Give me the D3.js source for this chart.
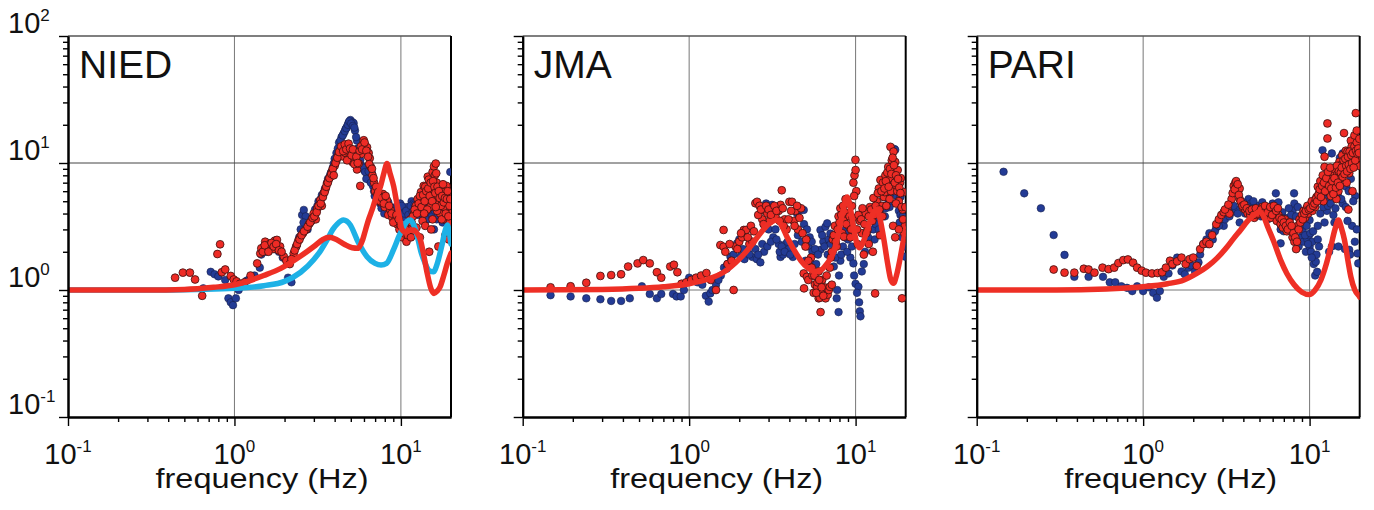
<!DOCTYPE html>
<meta charset="utf-8">
<style>
body { margin: 0; background: #fff; }
text { font-family: "Liberation Sans", Arial, Helvetica, sans-serif; fill: #111; }
.axis .domain { stroke: #000; stroke-width: 2; }
.axis line { stroke: #000; stroke-width: 1.4; }
</style>
<svg width="1374" height="510"></svg>
<script src="https://cdn.jsdelivr.net/npm/d3@7"></script>
<script>

var panelNames = ["NIED", "JMA", "PARI"];
var freqTicks = [0.1, 1, 10];
var ampTicks = [0.1, 1, 10, 100];
var tickExp = {0.1: "-1", 1: "0", 10: "1", 100: "2"};
var xTitle = "frequency (Hz)";

// NIED  [frequency Hz, amplification]
var niedBlue = [[0.65,1.03],[0.72,1.39],[0.76,1.33],[0.80,1.28],[0.88,1.2],[0.92,0.86],[0.95,0.80],[0.98,0.76],[1.02,0.86],[1.06,1.0],[1.12,1.1],[1.18,1.18],[1.22,1.21],[1.28,1.25],[1.32,1.3],[1.42,1.5],[1.5,2.2],[1.55,2.0],[1.62,2.1],[1.7,2.35],[1.78,2.2],[1.85,2.0],[1.95,1.8],[2.1,1.25],[2.17,1.2],[2.2,1.15],[2.35,2.2],[2.45,2.6],[2.55,3.9],[2.61,4.27],[2.68,3.8],[2.8,3.3],[2.9,3.6],[3.05,4.3],[3.2,5.0],[3.35,5.6],[3.5,6.3],[3.65,7.5],[3.8,8.4],[3.95,9.9],[4.1,12],[4.25,14.5],[4.4,16],[4.53,17.1],[4.65,18.5],[4.75,19.4],[4.85,20.8],[4.97,21.8],[5.1,21],[5.2,20.6],[5.3,18],[5.45,15],[5.6,11.5],[5.8,9.5],[6.0,8.8],[6.3,8],[6.5,7.3],[6.7,8.3],[6.8,6.6],[6.96,5.5],[7.2,5.3],[7.5,4.8],[7.8,4.6],[8.1,4.2],[8.4,4.9],[8.7,4.1],[9.0,3.8],[9.3,4.5],[9.6,4.0],[9.9,4.8],[10.3,4.3],[10.6,3.7],[10.9,4.5],[11.3,2.8],[11.6,5.0],[11.9,4.8],[12.3,4.4],[12.7,3.9],[13.1,5.1],[13.5,4.2],[14.0,4.6],[14.5,3.6],[15.0,4.1],[15.8,3.0],[16.4,3.6],[17.0,4.2],[17.8,3.4],[18.5,3.8],[19.2,4.3],[19.8,8.5],[19.9,3.0],
  [1.45,1.9],[1.58,2.3],[1.66,2.2],[1.74,2.1],[2.5,3.0],[2.6,3.4],[2.75,3.0],[3.0,3.9],[3.15,4.6],[3.3,5.2],[3.45,5.9],[3.6,7.0],[3.75,8.0],[3.9,9.2],[4.0,10.8],[4.18,13],[4.33,15],[4.47,16.5],[4.6,17.8],[4.7,18.8],[4.8,20],[4.9,21.3],[5.03,20.5],[5.15,19.6],[5.25,19],[5.38,16],[5.5,13],[5.7,10.5],[5.9,9.2],[6.1,8.5],[6.2,7.5],[6.4,8.6],[6.6,7.0],[6.9,6.0],[7.1,5.8],[7.35,5.0],[7.65,4.4],[7.95,4.0],[8.25,4.5],[8.55,4.0],[8.85,4.4],[9.15,4.2],[9.45,3.7],[9.75,4.2],[10.1,4.6],[10.45,4.0],[10.75,4.2],[11.1,3.9],[11.45,4.6],[11.75,4.1],[12.1,4.7],[12.5,4.1],[12.9,4.5],[13.3,4.8],[13.8,4.0],[14.2,4.3],[14.8,4.5],[15.4,3.8],[16.0,4.2],[16.8,3.9],[17.4,4.5],[18.0,4.0],[18.8,3.5],[19.5,4.0]];
var niedRed = [[0.44,1.25],[0.49,1.37],[0.54,1.37],[0.58,1.21],[0.64,0.9],[0.79,1.92],[0.82,2.29],[0.84,1.38],[0.88,1.45],[0.95,1.29],[0.99,1.21],[1.03,1.17],[1.08,1.12],[1.15,1.15],[1.25,1.3],[1.37,1.62],[1.43,1.94],[1.45,2.13],[1.48,2.0],[1.53,2.4],[1.58,2.2],[1.63,2.3],[1.7,2.1],[1.75,2.45],[1.8,2.48],[1.88,2.2],[1.98,1.83],[2.05,1.7],[2.15,1.6],[2.27,1.94],[2.35,2.2],[2.42,2.45],[2.49,2.63],[2.58,2.8],[2.7,3.0],[2.8,3.3],[2.9,3.5],[2.99,4.0],[3.08,3.6],[3.15,4.4],[3.28,5.1],[3.35,4.6],[3.44,5.78],[3.52,6.2],[3.6,6.9],[3.68,7.4],[3.77,7.8],[3.85,8.6],[4.0,9.5],[4.1,10.5],[4.2,11.5],[4.33,12.7],[4.45,11.3],[4.55,13.5],[4.65,12],[4.8,13.3],[4.9,11],[5.0,12.5],[5.1,10.2],[5.2,11.5],[5.35,10.5],[5.45,8.9],[5.58,9.9],[5.7,6.6],[5.8,11.8],[5.9,14],[5.98,15.1],[6.1,13.8],[6.26,13.3],[6.4,12],[6.5,10.9],[6.6,9.3],[6.75,8.0],[6.9,7.0],[7.0,6.0],[7.2,5.6],[7.4,5.3],[7.6,4.9],[7.8,5.7],[8.0,4.5],[8.25,5.1],[8.4,3.9],[8.66,4.27],[8.9,3.7],[9.2,3.5],[9.5,3.3],[9.8,3.0],[10.2,2.6],[10.5,3.2],[10.8,2.4],[11.2,3.0],[11.6,3.4],[12.0,4.0],[12.3,4.6],[12.6,5.2],[12.9,4.1],[13.2,5.9],[13.5,3.5],[13.7,6.6],[14.0,6.5],[14.3,5.1],[14.5,7.8],[14.7,7.4],[15.0,4.5],[15.2,6.0],[15.5,8.5],[15.8,9.4],[16.0,8.0],[16.2,9.9],[16.4,7.0],[16.6,5.5],[16.8,2.2],[17.0,4.8],[17.2,4.0],[17.5,6.3],[17.8,5.0],[18.0,5.9],[18.3,3.6],[18.5,2.7],[18.8,6.6],[19.0,4.4],[19.2,4.8],[19.5,5.6],[19.7,3.4],[19.9,4.0],[14.0,3.2],[14.8,2.0],[15.2,3.0],[13.0,2.6],[12.4,3.1],[16.5,4.2],[17.6,3.6],[18.2,4.5],[19.4,2.5],
  [1.52,2.25],[1.6,2.0],[1.67,2.35],[1.72,2.2],[1.78,2.3],[1.85,2.05],[1.92,2.0],[2.2,1.75],[2.3,2.05],[2.38,2.3],[2.46,2.5],[2.53,2.7],[2.62,2.9],[2.75,3.15],[2.85,3.4],[2.95,3.7],[3.02,3.8],[3.12,4.1],[3.2,4.6],[3.3,4.8],[3.4,5.4],[3.48,5.9],[3.56,6.5],[3.64,7.0],[3.72,7.6],[3.82,8.2],[3.9,9.0],[3.95,8.0],[4.05,10.0],[4.15,11.0],[4.25,12.2],[4.38,13.5],[4.5,12.4],[4.6,14.0],[4.7,12.8],[4.75,10.5],[4.85,14.2],[4.95,13.0],[5.05,11.5],[5.15,12.8],[5.25,9.8],[5.4,11.2],[5.5,10.0],[5.65,12.5],[5.75,13.5],[5.85,12.8],[6.05,14.5],[6.2,12.5],[6.35,11.2],[6.45,9.8],[6.7,9.0],[6.85,7.6],[7.1,6.5],[7.3,5.9],[7.5,5.0],[7.7,5.3],[7.9,4.8],[8.1,5.5],[8.5,4.6],[8.8,4.0],[9.0,3.4],[9.4,3.9],[9.7,3.6],[10.0,3.2],[10.4,2.8],[10.7,3.0],[11.0,2.7],[11.4,3.6],[11.8,3.8],[12.1,4.3],[12.5,4.0],[12.8,4.8],[13.0,5.5],[13.3,4.5],[13.6,5.6],[13.9,5.0],[14.2,6.0],[14.4,4.3],[14.6,6.3],[14.9,5.5],[15.1,7.0],[15.4,5.0],[15.6,7.2],[15.9,6.5],[16.1,5.8],[16.3,8.3],[16.6,6.5],[16.9,6.0],[17.1,5.3],[17.4,4.6],[17.7,5.5],[17.9,6.8],[18.1,4.9],[18.4,5.3],[18.6,4.0],[18.9,5.2],[19.1,6.0],[19.3,3.8],[19.6,4.6],[19.8,5.2],[13.8,4.0],[15.5,3.6],[16.2,4.5],[12.0,2.9],[11.5,2.6]];
var niedLineCyan = [[0.1,1.0],[0.3,1.0],[0.6,1.01],[1.0,1.03],[1.5,1.08],[2.0,1.17],[2.5,1.38],[3.0,1.74],[3.3,2.05],[3.6,2.48],[3.9,3.0],[4.14,3.3],[4.52,3.55],[4.97,3.25],[5.46,2.48],[6.26,1.83],[7.0,1.62],[7.6,1.57],[8.2,1.62],[9.06,2.1],[9.8,2.7],[10.4,3.15],[11.0,3.5],[11.4,3.55],[12.0,3.2],[12.5,2.7],[13.2,2.0],[14.0,1.62],[14.8,1.42],[15.7,1.39],[16.5,1.6],[17.7,2.3],[18.4,2.9],[19.0,3.25],[19.5,2.9],[20,2.3]];
var niedLineRed = [[0.1,1.0],[0.3,1.0],[0.5,1.01],[0.75,1.05],[1.0,1.1],[1.2,1.17],[1.5,1.3],[1.9,1.48],[2.5,1.85],[3.0,2.2],[3.4,2.5],[3.7,2.6],[4.1,2.5],[4.6,2.28],[5.1,2.15],[5.5,2.13],[5.9,2.5],[6.13,2.97],[6.4,3.6],[6.71,4.27],[7.1,5.4],[7.53,6.5],[7.9,8.3],[8.25,9.9],[8.6,8.3],[9.06,6.5],[9.4,5.0],[9.7,4.0],[10.15,3.0],[10.7,2.85],[11.3,2.95],[11.9,2.97],[12.5,2.8],[13.1,2.47],[13.7,1.9],[14.4,1.35],[15.1,1.04],[15.8,0.94],[16.5,0.98],[17.2,1.06],[18.1,1.3],[19.0,1.62],[20,1.95]];

// JMA
var jmaBlue = [[0.147,0.91],[0.194,0.89],[0.241,0.86],[0.293,0.845],[0.34,0.82],[0.39,0.82],[0.44,0.86],[0.52,1.07],[0.58,0.93],[0.64,0.86],[0.68,0.93],[0.8,0.93],[0.84,0.89],[0.89,0.89],[0.93,1.0],[1.0,1.25],[1.05,1.2],[1.12,1.15],[1.2,1.1],[1.26,0.9],[1.31,0.81],[1.34,0.94],[1.38,1.0],[1.45,1.1],[1.55,1.3],[1.62,1.5],[1.68,1.47],[1.77,1.83],[1.85,1.9],[1.94,2.33],[2.0,2.5],[2.05,1.85],[2.15,1.75],[2.25,2.0],[2.4,1.82],[2.55,1.75],[2.68,1.65],[2.82,2.0],[2.9,4.8],[3.0,3.0],[3.15,4.68],[3.2,2.6],[3.3,3.0],[3.45,2.3],[3.54,1.82],[3.67,1.9],[3.8,2.3],[3.98,2.1],[4.2,1.82],[4.45,4.0],[4.65,4.27],[4.88,4.27],[4.9,3.3],[5.0,1.7],[5.2,2.2],[5.35,1.62],[5.5,2.0],[5.6,1.3],[5.8,1.6],[6.15,2.07],[6.15,2.97],[6.4,2.4],[6.59,3.15],[6.75,3.35],[6.9,2.5],[7.05,2.78],[7.3,2.0],[7.4,1.53],[7.7,0.86],[7.75,1.0],[7.9,0.67],[8.1,1.7],[8.4,2.2],[8.7,3.0],[9.0,2.5],[9.3,1.8],[9.7,1.62],[10.0,1.12],[10.4,1.06],[10.5,0.8],[10.6,0.68],[10.7,0.62],[11.2,1.6],[11.6,2.4],[12.0,2.97],[12.5,3.6],[13.0,2.5],[13.5,3.55],[14.0,4.2],[14.7,5.4],[15.0,3.8],[15.5,6.0],[16.0,4.5],[16.5,7.0],[16.9,9.9],[17.1,12.9],[17.3,12.7],[17.7,5.5],[18.2,4.2],[18.6,5.4],[18.6,3.9],[19.2,3.8],[19.7,2.2],[19.9,1.83],
  [1.5,1.2],[1.7,1.6],[1.8,1.7],[2.1,2.1],[2.3,1.9],[2.5,2.1],[2.6,1.9],[2.75,2.3],[2.95,2.2],[3.1,2.4],[3.35,2.5],[3.5,2.0],[3.6,2.2],[3.75,2.0],[3.9,2.4],[4.05,1.9],[4.3,2.3],[4.5,2.7],[4.75,2.4],[5.1,3.0],[5.3,2.6],[5.45,2.4],[5.7,2.1],[5.95,1.9],[6.3,2.7],[6.5,2.2],[6.8,1.9],[7.1,2.3],[7.55,1.8],[7.95,1.3],[8.2,1.9],[8.6,2.6],[8.9,2.0],[9.1,2.8],[9.5,2.2],[9.8,1.3],[10.2,0.95],[10.9,1.4],[11.4,2.0],[11.9,2.6],[12.8,3.0],[13.2,3.3],[13.8,3.0],[14.3,4.6],[15.2,4.4],[15.8,5.0],[16.2,5.8],[16.7,8.0],[17.5,6.5],[18.0,5.0],[18.4,3.4],[19.0,2.6],[19.5,3.0]];
var jmaRed = [[0.147,1.05],[0.194,1.07],[0.241,1.14],[0.293,1.29],[0.34,1.31],[0.39,1.33],[0.43,1.53],[0.49,1.62],[0.53,1.72],[0.58,1.62],[0.64,1.38],[0.68,1.25],[0.77,1.53],[0.81,1.58],[0.85,1.38],[0.9,1.12],[0.96,1.15],[1.03,1.2],[1.1,1.25],[1.18,1.3],[1.27,1.36],[1.35,1.2],[1.45,1.0],[1.54,2.26],[1.61,2.97],[1.61,2.19],[1.7,1.6],[1.8,1.7],[1.85,1.0],[1.9,2.2],[2.0,2.4],[2.08,2.6],[2.13,2.97],[2.2,2.97],[2.3,2.3],[2.4,2.4],[2.5,4.82],[2.56,4.95],[2.65,4.6],[2.75,3.6],[2.85,4.2],[2.95,4.0],[3.05,3.5],[3.15,4.4],[3.3,3.8],[3.45,4.2],[3.54,4.68],[3.6,6.1],[3.75,3.6],[3.85,3.0],[4.0,4.95],[4.15,4.95],[4.25,3.5],[4.35,4.2],[4.5,3.0],[4.7,4.4],[4.88,1.35],[4.9,1.03],[5.05,2.5],[5.1,1.27],[5.2,1.2],[5.3,1.53],[5.4,1.8],[5.5,1.3],[5.6,0.95],[5.7,1.1],[5.87,1.06],[5.9,1.15],[6.0,0.86],[6.0,1.4],[6.1,0.87],[6.16,0.67],[6.2,0.95],[6.3,1.2],[6.5,1.05],[6.6,0.86],[6.8,0.92],[6.9,1.0],[7.0,1.06],[7.1,1.8],[7.2,1.1],[7.3,2.5],[7.5,3.2],[7.7,2.2],[7.9,3.8],[8.1,4.4],[8.3,2.8],[8.5,2.63],[8.5,3.5],[8.7,5.2],[8.9,4.0],[9.1,3.2],[9.3,2.6],[9.5,4.6],[9.7,7.0],[9.85,8.0],[9.98,10.6],[10.1,6.0],[10.3,2.3],[10.6,3.5],[10.9,2.8],[11.2,1.9],[11.5,4.0],[11.8,3.0],[12.2,4.5],[12.6,3.5],[13.1,0.94],[13.4,5.0],[13.8,6.3],[14.1,7.35],[14.4,4.6],[14.8,5.4],[15.1,8.0],[15.4,6.8],[15.7,9.3],[16.0,7.6],[16.2,13.4],[16.5,10.5],[16.9,12.3],[17.1,8.5],[17.3,10.2],[17.6,6.5],[17.9,8.8],[18.2,5.0],[18.5,7.0],[18.7,7.6],[19.0,0.86],[19.2,4.3],[19.5,5.9],[19.8,3.2],[15.0,5.9],[16.3,6.0],[17.5,4.8],[14.0,2.7],[13.0,3.9],
  [1.65,2.0],[1.75,2.3],[1.95,2.1],[2.05,2.8],[2.25,2.6],[2.35,3.2],[2.45,2.9],[2.6,3.9],[2.7,4.3],[2.8,3.3],[2.9,4.6],[3.0,4.3],[3.1,3.9],[3.25,4.6],[3.35,4.2],[3.5,3.5],[3.65,4.4],[3.7,3.2],[3.95,3.6],[4.1,4.2],[4.3,3.2],[4.45,4.6],[4.6,3.7],[4.8,2.8],[5.0,2.2],[5.2,1.7],[5.45,1.5],[5.65,1.3],[5.8,0.95],[6.05,1.2],[6.25,1.05],[6.4,0.9],[6.7,1.3],[7.0,1.5],[7.2,2.0],[7.4,2.7],[7.6,2.4],[7.8,3.0],[8.0,3.4],[8.2,3.9],[8.4,4.6],[8.6,4.1],[8.8,3.3],[9.0,4.8],[9.2,3.8],[9.4,3.0],[9.6,3.7],[9.8,5.5],[10.0,8.8],[10.2,3.0],[10.4,3.9],[10.8,3.6],[11.0,4.4],[11.3,3.3],[11.6,2.8],[12.0,3.8],[12.4,4.3],[12.8,5.3],[13.2,4.6],[13.6,5.8],[13.9,4.3],[14.3,6.0],[14.6,7.0],[14.9,6.3],[15.2,7.2],[15.5,8.4],[15.8,6.5],[16.1,9.0],[16.4,8.2],[16.7,11.0],[17.0,9.6],[17.2,7.0],[17.5,8.0],[17.8,6.0],[18.0,7.5],[18.3,6.4],[18.6,5.8],[18.9,4.5],[19.3,3.6],[19.6,2.8],[19.9,4.5],[16.0,5.2],[15.3,4.6],[14.5,3.8],[12.0,2.3],[12.7,2.0],[16.8,3.2],[17.3,2.6],[18.2,3.0]];
var jmaLineRed = [[0.1,1.0],[0.3,1.01],[0.5,1.03],[0.7,1.06],[1.0,1.12],[1.3,1.22],[1.61,1.38],[2.0,1.75],[2.33,2.19],[2.65,2.75],[3.0,3.3],[3.2,3.5],[3.38,3.55],[3.6,3.2],[3.88,2.6],[4.24,2.1],[4.7,1.7],[5.2,1.48],[5.7,1.4],[6.1,1.42],[6.7,1.6],[7.39,2.0],[7.9,2.8],[8.4,4.2],[8.9,5.4],[9.3,4.4],[9.7,3.15],[10.2,2.3],[10.6,2.15],[11.2,2.45],[11.8,3.0],[12.6,3.9],[13.5,4.35],[14.1,3.5],[14.8,2.48],[15.6,1.6],[16.3,1.2],[16.9,1.13],[17.6,1.3],[18.4,1.7],[19.2,2.3],[20,3.0]];

// PARI
var pariBlue = [[0.145,8.53],[0.193,5.77],[0.243,4.4],[0.29,2.71],[0.337,1.89],[0.386,1.27],[0.47,1.27],[0.574,1.27],[0.63,1.15],[0.68,1.15],[0.74,1.07],[0.8,1.04],[0.86,0.98],[0.92,1.07],[1.0,0.98],[1.08,1.05],[1.15,0.95],[1.21,0.87],[1.26,0.98],[1.33,1.27],[1.42,1.35],[1.5,1.56],[1.6,1.8],[1.7,1.4],[1.78,1.33],[1.87,1.5],[1.95,1.56],[2.05,1.4],[2.15,1.65],[2.3,2.3],[2.4,2.5],[2.5,2.8],[2.62,2.5],[2.75,3.1],[2.9,3.45],[3.05,3.2],[3.2,3.9],[3.4,4.1],[3.6,4.3],[3.8,3.4],[3.95,4.6],[4.1,4.0],[4.3,5.2],[4.45,4.8],[4.7,4.2],[4.9,4.6],[5.1,3.8],[5.35,4.4],[5.6,3.6],[5.8,3.9],[6.0,4.8],[6.27,5.77],[6.3,3.8],[6.6,3.4],[6.7,2.33],[6.7,3.0],[7.0,2.9],[7.3,3.2],[7.6,3.6],[7.9,4.2],[8.07,5.77],[8.1,4.8],[8.4,3.0],[8.6,2.2],[8.9,2.6],[9.2,2.4],[9.5,2.0],[9.7,2.5],[9.9,2.7],[10.0,3.55],[10.0,2.2],[10.2,2.0],[10.4,2.4],[10.6,1.6],[10.8,1.3],[10.9,1.67],[11.0,1.9],[11.1,1.39],[11.2,2.5],[11.4,2.2],[11.96,12.6],[12.0,5.5],[12.3,3.4],[12.7,4.2],[13.0,6.0],[13.1,2.0],[13.3,7.5],[13.6,11.9],[13.6,2.2],[13.9,3.9],[14.1,3.4],[14.4,8.0],[14.8,5.5],[14.9,2.2],[15.2,11],[15.8,11.9],[15.8,4.8],[16.3,2.1],[16.6,6.5],[17.0,9.0],[17.3,2.07],[17.5,1.9],[18.0,3.2],[18.5,12.7],[18.8,5.5],[19.4,1.94],[19.6,1.62],
  [2.2,1.9],[2.45,2.3],[2.7,2.9],[2.85,3.2],[3.1,3.6],[3.3,3.8],[3.5,4.6],[3.7,4.0],[4.0,4.9],[4.2,4.6],[4.6,5.0],[5.0,4.3],[5.2,4.9],[5.5,4.5],[5.7,4.2],[6.15,4.4],[6.5,4.9],[6.85,4.1],[7.15,3.7],[7.5,4.4],[7.75,3.9],[8.3,3.8],[8.5,4.5],[8.8,3.2],[9.1,2.9],[9.4,2.7],[9.6,3.2],[9.8,2.3],[10.1,2.8],[10.3,1.8],[10.5,2.9],[11.2,3.2],[11.6,4.0],[12.1,4.5],[12.5,5.2],[12.9,4.6],[13.4,4.8],[13.8,5.6],[14.3,4.4],[14.6,3.3],[15.0,6.5],[15.5,5.2],[16.0,8.5],[16.5,4.5],[16.9,3.5],[17.2,6.0],[17.7,7.5],[18.3,5.0],[18.7,2.4],[19.2,3.0]];
var pariRed = [[0.29,1.45],[0.337,1.37],[0.386,1.37],[0.44,1.47],[0.47,1.45],[0.51,1.37],[0.57,1.5],[0.62,1.46],[0.67,1.5],[0.71,1.63],[0.76,1.72],[0.81,1.74],[0.87,1.64],[0.92,1.5],[0.98,1.42],[1.04,1.37],[1.13,1.35],[1.22,1.36],[1.3,1.38],[1.37,1.5],[1.45,1.7],[1.5,1.6],[1.6,1.68],[1.7,1.8],[1.8,1.6],[1.9,1.75],[2.0,1.8],[2.1,1.55],[2.2,2.1],[2.3,2.3],[2.4,2.4],[2.5,2.3],[2.6,2.7],[2.75,3.3],[2.85,3.6],[2.95,3.9],[3.05,4.1],[3.2,4.4],[3.3,4.0],[3.4,5.2],[3.5,6.6],[3.58,7.0],[3.65,6.5],[3.72,6.0],[3.8,6.3],[3.8,5.2],[3.9,4.8],[4.0,4.4],[4.1,4.3],[4.25,4.0],[4.4,3.9],[4.55,4.1],[4.65,3.7],[4.8,3.9],[5.0,4.1],[5.2,4.5],[5.35,3.8],[5.5,3.9],[5.7,4.3],[5.85,3.7],[6.0,4.3],[6.2,4.0],[6.35,3.5],[6.5,3.9],[6.7,3.3],[6.9,3.1],[7.1,3.6],[7.3,2.9],[7.5,3.4],[7.7,3.0],[7.9,2.6],[8.1,2.4],[8.3,2.1],[8.5,3.2],[8.7,3.6],[9.0,3.9],[9.2,4.2],[9.4,3.7],[9.6,4.4],[9.8,4.0],[10.0,4.6],[10.2,4.7],[10.4,4.2],[10.6,5.0],[10.8,4.5],[11.0,5.4],[11.2,6.5],[11.4,5.8],[11.6,7.2],[11.8,6.0],[12.0,8.0],[12.1,5.0],[12.3,11.2],[12.3,9.3],[12.5,6.5],[12.8,20.5],[12.8,15.6],[13.0,7.5],[13.2,5.8],[13.4,5.5],[13.6,8.5],[13.8,6.4],[14.0,9.0],[14.3,7.1],[14.5,5.2],[14.7,8.2],[14.9,6.0],[15.1,10.2],[15.3,9.6],[15.5,7.6],[15.7,11.5],[16.1,17.2],[16.3,9.0],[16.5,12.5],[16.7,7.0],[16.9,12.3],[17.1,4.3],[17.3,8.3],[17.5,10.4],[17.7,15],[17.9,13.5],[18.1,6.0],[18.4,11],[18.6,16.5],[18.8,13],[18.95,24.7],[19.2,18],[19.4,14],[19.6,11],[19.8,9.5],
  [3.1,4.3],[3.25,4.7],[3.45,5.8],[3.55,6.2],[3.62,7.2],[3.7,6.8],[3.76,5.6],[3.85,5.0],[3.95,4.6],[4.05,4.7],[4.2,4.4],[4.35,4.2],[4.5,4.3],[4.6,3.9],[4.75,4.4],[4.9,4.0],[5.1,4.3],[5.25,4.0],[5.4,4.6],[5.6,4.1],[5.8,4.5],[5.95,3.9],[6.1,4.6],[6.3,4.2],[6.45,4.4],[6.6,3.7],[6.8,3.6],[7.0,3.4],[7.2,3.2],[7.4,3.0],[7.6,3.4],[7.8,3.2],[8.0,2.8],[8.2,2.6],[8.4,2.4],[8.6,3.0],[8.8,3.4],[9.1,3.6],[9.3,4.0],[9.5,4.2],[9.7,4.6],[9.9,4.3],[10.1,4.4],[10.3,5.0],[10.5,4.6],[10.7,4.8],[10.9,5.2],[11.1,5.0],[11.3,5.6],[11.5,6.2],[11.7,5.4],[11.9,6.6],[12.2,7.0],[12.4,6.0],[12.6,7.6],[12.9,8.5],[13.1,6.6],[13.3,9.2],[13.5,6.3],[13.7,7.2],[13.9,5.7],[14.1,7.6],[14.4,6.4],[14.6,9.5],[14.8,7.0],[15.0,8.6],[15.2,6.6],[15.4,8.4],[15.6,9.2],[15.8,7.8],[16.0,10.5],[16.2,8.2],[16.4,10.8],[16.6,9.5],[16.8,8.6],[17.0,11.2],[17.2,9.7],[17.4,12.3],[17.6,9.0],[17.8,11.5],[18.0,10.0],[18.2,12.0],[18.4,9.2],[18.6,13.5],[18.8,10.5],[19.0,12.5],[19.2,14.5],[19.4,11.8],[19.6,13.0],[19.8,12.0],[19.9,15.5]];
var pariLineRed = [[0.1,1.0],[0.3,1.0],[0.6,1.02],[1.0,1.06],[1.4,1.12],[1.76,1.2],[2.1,1.35],[2.43,1.53],[2.8,1.8],[3.2,2.19],[3.5,2.55],[3.85,2.97],[4.25,3.5],[4.64,3.9],[4.98,4.14],[5.3,3.8],[5.6,3.15],[6.1,2.4],[6.7,1.72],[7.3,1.35],[8.08,1.1],[9.0,0.96],[9.95,0.92],[10.8,1.0],[11.7,1.2],[12.6,1.6],[13.4,2.19],[14.2,3.0],[14.9,3.55],[15.5,3.1],[16.2,2.48],[17.0,1.7],[17.7,1.27],[18.7,1.0],[19.9,0.89],[20,0.88]];

var panels = [
  {name: panelNames[0], blue: niedBlue, red: niedRed, lines: [[niedLineCyan, "#1db1e6"], [niedLineRed, "#ee2f25"]]},
  {name: panelNames[1], blue: jmaBlue, red: jmaRed, lines: [[jmaLineRed, "#ee2f25"]]},
  {name: panelNames[2], blue: pariBlue, red: pariRed, lines: [[pariLineRed, "#ee2f25"]]}
];

var svg = d3.select("svg"),
    lefts = [68, 522.7, 976.7],
    marginTop = 36,
    width = 383,
    height = 381;

var x = d3.scaleLog().domain([0.1, 20]).range([0, width]);
var y = d3.scaleLog().domain([0.1, 100]).range([height, 0]);

var minorX = [], minorY = [];
[0.1, 1, 10].forEach(function(d) {
  for (var k = 2; k <= 9; k++) {
    if (d * k < 20) minorX.push(d * k);
    minorY.push(d * k);
  }
});

var line = d3.line()
    .x(function(d) { return x(d[0]); })
    .y(function(d) { return y(d[1]); })
    .curve(d3.curveMonotoneX);

svg.append("defs").append("clipPath").attr("id", "plotclip")
  .append("rect").attr("width", width).attr("height", height);

panels.forEach(function(p, i) {
  var g = svg.append("g").attr("transform", "translate(" + lefts[i] + "," + marginTop + ")");

  // grid
  g.selectAll(".vgrid").data([1, 10]).enter().append("line")
      .attr("x1", x).attr("x2", x).attr("y1", 0).attr("y2", height)
      .attr("stroke", "#777").attr("stroke-width", 1);
  g.selectAll(".hgrid").data([1, 10]).enter().append("line")
      .attr("y1", y).attr("y2", y).attr("x1", 0).attr("x2", width)
      .attr("stroke", function(d) { return d === 10 ? "#444" : "#777"; })
      .attr("stroke-width", 1);

  // frame top/right
  g.append("line").attr("x1", 0).attr("x2", width).attr("y1", 0).attr("y2", 0)
      .attr("stroke", "#555").attr("stroke-width", 1.5);
  g.append("line").attr("x1", width).attr("x2", width).attr("y1", 0).attr("y2", height)
      .attr("stroke", "#000").attr("stroke-width", 2);

  var plot = g.append("g").attr("clip-path", "url(#plotclip)");

  plot.selectAll(".blue").data(p.blue).enter().append("circle")
      .attr("cx", function(d) { return x(d[0]); })
      .attr("cy", function(d) { return y(d[1]); })
      .attr("r", 3.8)
      .attr("fill", "#233b95")
      .attr("stroke", "#18204d")
      .attr("stroke-width", 0.6);

  plot.selectAll(".red").data(p.red).enter().append("circle")
      .attr("cx", function(d) { return x(d[0]); })
      .attr("cy", function(d) { return y(d[1]); })
      .attr("r", 3.9)
      .attr("fill", "#ee2b25")
      .attr("stroke", "#3b1010")
      .attr("stroke-width", 0.8);

  p.lines.forEach(function(l) {
    plot.append("path")
        .attr("d", line(l[0]))
        .attr("fill", "none")
        .attr("stroke", l[1])
        .attr("stroke-width", 5.5)
        .attr("stroke-linejoin", "round")
        .attr("stroke-linecap", "round");
  });

  // axes
  g.append("g").attr("class", "axis").attr("transform", "translate(0," + height + ")")
      .call(d3.axisBottom(x).tickValues(minorX).tickSize(5).tickSizeOuter(0).tickFormat(""));
  g.append("g").attr("class", "axis").attr("transform", "translate(0," + height + ")")
      .call(d3.axisBottom(x).tickValues(freqTicks).tickSize(9).tickSizeOuter(0).tickFormat(""));
  g.append("g").attr("class", "axis")
      .call(d3.axisLeft(y).tickValues(minorY).tickSize(5).tickSizeOuter(0).tickFormat(""));
  g.append("g").attr("class", "axis")
      .call(d3.axisLeft(y).tickValues(ampTicks).tickSize(9).tickSizeOuter(0).tickFormat(""));

  // x tick labels
  var xl = g.selectAll(".xlab").data(freqTicks).enter().append("text")
      .attr("x", x).attr("y", 428)
      .attr("text-anchor", "middle")
      .attr("font-size", 29);
  xl.append("tspan").text("10");
  xl.append("tspan").attr("dy", -12).attr("font-size", 17).text(function(d) { return tickExp[d]; });

  if (i === 0) {
    var yl = g.selectAll(".ylab").data(ampTicks).enter().append("text")
        .attr("x", -60).attr("y", function(d) { return y(d) - 3; })
        .attr("font-size", 29);
    yl.append("tspan").text("10");
    yl.append("tspan").attr("dy", -12).attr("font-size", 17).text(function(d) { return tickExp[d]; });
  }

  g.append("text")
      .attr("x", 11).attr("y", 42)
      .attr("font-size", 39)
      .text(p.name);

  g.append("text")
      .attr("x", 194).attr("y", 452)
      .attr("text-anchor", "middle")
      .attr("font-size", 28)
      .attr("textLength", 213)
      .attr("lengthAdjust", "spacingAndGlyphs")
      .text(xTitle);
});

</script>
